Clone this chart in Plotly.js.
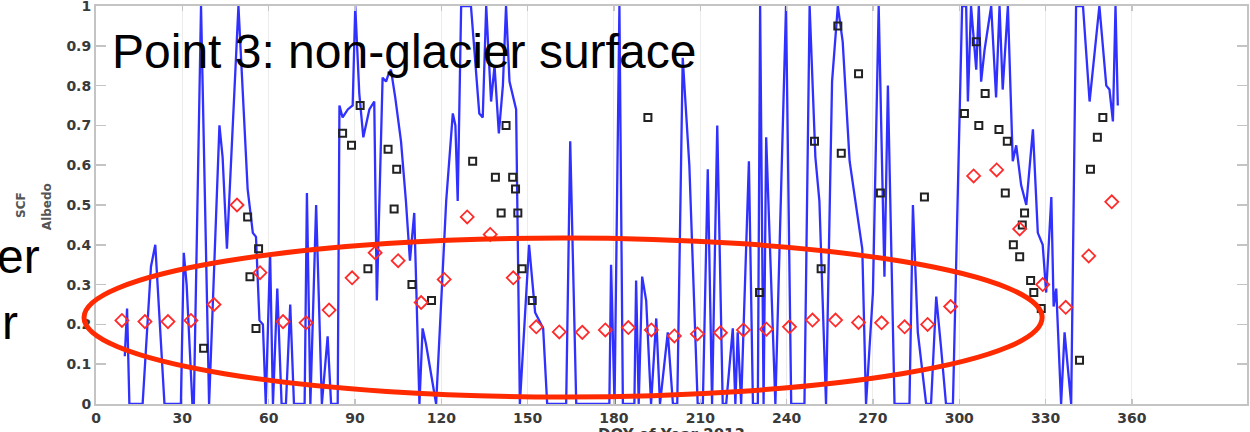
<!DOCTYPE html>
<html>
<head>
<meta charset="utf-8">
<script src="https://cdn.plot.ly/plotly-3.0.1.min.js"></script>
<style>
  html, body { margin: 0; padding: 0; background: #ffffff; }
  #chart { width: 1250px; height: 432px; }
</style>
</head>
<body>
<div id="chart"></div>
<script>
// ---- Data ----
// Daily snow cover fraction (blue line)
const doyLine = [10.0, 10.8, 11.6, 16.2, 19.1, 20.6, 23.8, 29.5, 30.5, 31.5, 33.5, 34.0, 36.5, 39.3, 42.9, 44.0, 45.5, 49.5, 52.7, 54.5, 55.6, 56.8, 58.0,
  59.0, 60.5, 61.5, 63.0, 64.5, 66.0, 67.5, 68.8, 72.5, 73.3, 74.5, 76.5, 78.5, 80.5, 81.7, 84.0, 84.6, 85.7, 87.5, 89.2, 90.1, 91.5, 92.9, 95.0, 96.7, 97.6,
  99.6, 100.8, 101.7, 102.5, 104.0, 106.0, 107.7, 109.1, 110.6, 112.4, 113.5, 114.7, 118.2, 121.7, 124.0, 124.9, 125.7, 126.9, 130.3, 133.2, 134.4, 135.6,
  137.3, 138.5, 140.0, 141.4, 142.5, 143.7, 145.4, 146.0, 147.3, 150.5, 152.6, 155.4, 156.8, 163.4, 164.8, 166.9, 178.4, 179.0, 180.2, 181.9, 183.1, 187.1,
  187.7, 188.6, 189.8, 191.2, 192.9, 194.7, 196.0, 198.7, 200.5, 202.0, 203.9, 206.2, 209.1, 210.9, 212.6, 214.1, 215.9, 217.8, 219.0, 221.3, 222.2, 223.0,
  224.2, 226.9, 228.3, 230.0, 230.8, 232.0, 232.9, 236.1, 239.8, 241.6, 246.2, 248.0, 250.0, 251.4, 253.7, 255.8, 257.8, 259.5, 261.9, 264.2, 266.3, 267.6,
  270.0, 272.0, 274.0, 275.2, 277.5, 282.7, 283.9, 285.6, 288.5, 290.2, 292.0, 293.7, 295.4, 297.8, 300.1, 301.0, 302.4, 303.0, 304.1, 305.9, 306.8, 307.6,
  308.8, 311.1, 312.8, 314.0, 315.1, 316.9, 318.6, 319.8, 321.5, 323.3, 325.6, 327.3, 329.0, 330.2, 332.0, 332.8, 333.7, 335.4, 336.6, 338.9, 340.6, 343.0,
  345.3, 348.7, 351.1, 352.2, 353.4, 354.3, 355.1];
const scfLine = [0.12, 0.24, 0, 0, 0.345, 0.40, 0, 0, 0.38, 0.30, 0, 0, 1.0, 0, 0.70, 0.62, 0.39, 1.0, 0.54, 0.43, 0.42, 0.21, 0.20,
  0, 0.38, 0, 0.29, 0, 0, 0.25, 0, 0, 0.53, 0, 0.50, 0, 0.17, 0, 0, 0.75, 0.72, 0.74, 0.75, 1.0, 0.78, 0.67, 0.74, 0.76, 0.26,
  0.82, 0.81, 0.83, 0.84, 0.77, 0.66, 0.51, 0.36, 0.48, 0, 0.19, 0.15, 0, 0.51, 0.73, 0.70, 0.51, 1.0, 1.0, 0.73, 0.72, 1.0,
  0.76, 0.85, 0.68, 0.80, 1.0, 0.81, 0.76, 0.74, 0, 0.40, 0.23, 0.19, 0, 0, 0.66, 0, 0, 0.35, 0, 1.0, 0, 0,
  0.31, 0, 0.32, 0.26, 0, 0.215, 0, 0.18, 0, 0, 0.87, 0.60, 0, 0, 0.59, 0, 0.70, 0, 0, 0.19, 0, 0.18,
  0, 0.61, 0, 0, 1.0, 0, 0.67, 0, 1.0, 0, 0, 1.0, 0.62, 0.51, 0, 0.81, 1.0, 0.91, 0.61, 0.50, 0.39, 0,
  0.28, 1.0, 0.32, 0.80, 0, 0, 0.50, 0.18, 0, 0, 0.27, 0.14, 0, 0, 0.74, 1.0, 1.0, 0.76, 1.0, 0.84, 1.0, 0.81,
  0.89, 1.0, 0.77, 1.0, 0.79, 1.0, 0.61, 0.65, 0.55, 0.50, 0.69, 0.43, 0.40, 0.28, 0.52, 0.245, 0.29, 0, 0.18, 0, 1.0, 1.0,
  0.76, 1.0, 0.80, 0.79, 0.71, 1.0, 0.75];

// Snow cover fraction observations (black squares)
const doySquares = [37.4, 52.7, 53.5, 55.6, 56.5, 85.7, 88.8, 91.8, 94.5, 101.5, 103.6, 104.5, 109.8, 116.6, 130.9, 138.8, 140.8, 142.5,
  144.8, 145.8, 146.6, 148.1, 151.6, 191.8, 230.6, 249.7, 252.0, 257.8, 259.0, 265.0, 272.6, 287.9, 301.8, 305.9, 306.8, 309.0,
  313.8, 316.0, 316.7, 318.8, 321.0, 321.9, 322.7, 324.8, 325.9, 328.5, 341.8, 345.6, 348.0, 349.9];
const scfSquares = [0.14, 0.47, 0.32, 0.19, 0.39, 0.68, 0.65, 0.75, 0.34, 0.64, 0.49, 0.59, 0.30, 0.26, 0.61, 0.57, 0.48, 0.70,
  0.57, 0.54, 0.48, 0.34, 0.26, 0.72, 0.28, 0.66, 0.34, 0.95, 0.63, 0.83, 0.53, 0.52, 0.73, 0.91, 0.70, 0.78,
  0.69, 0.53, 0.66, 0.40, 0.37, 0.45, 0.48, 0.31, 0.28, 0.24, 0.11, 0.59, 0.67, 0.72];

// 8-day albedo (red diamonds)
const doyAlbedo = [9, 17, 25, 33, 41, 49, 57, 65, 73, 81, 89, 97, 105, 113, 121, 129, 137, 145, 153, 161, 169, 177, 185, 193,
  201, 209, 217, 225, 233, 241, 249, 257, 265, 273, 281, 289, 297, 305, 313, 321, 329, 337, 345, 353];
const albedo = [0.21, 0.207, 0.207, 0.21, 0.25, 0.50, 0.33, 0.207, 0.204, 0.236, 0.317, 0.38, 0.36, 0.255, 0.313, 0.47, 0.426, 0.317,
  0.194, 0.181, 0.18, 0.186, 0.192, 0.186, 0.171, 0.176, 0.179, 0.186, 0.188, 0.194, 0.211, 0.211, 0.205, 0.204, 0.194, 0.20,
  0.245, 0.573, 0.588, 0.44, 0.30, 0.243, 0.372, 0.508];

const xTickVals = [0, 30, 60, 90, 120, 150, 180, 210, 240, 270, 300, 330, 360];
const xTickText = ['0', '30', '60', '90', '120', '150', '180', '210', '240', '270', '300', '330', '360'];
const yTickVals = [0, 0.1, 0.2, 0.3, 0.4, 0.5, 0.6, 0.7, 0.8, 0.9, 1];
const yTickText = ['0', '0.1', '0.2', '0.3', '0.4', '0.5', '0.6', '0.7', '0.8', '0.9', '1'];

const titleText = 'Point 3: non-glacier surface';
const xLabel = 'DOY of Year 2013';
const yLabel1 = 'SCF';
const yLabel2 = 'Albedo';
const slideFragment1 = 'er';
const slideFragment2 = 'r';

// ---- Traces ----
const traces = [
  {
    type: 'scatter', mode: 'lines', x: doyLine, y: scfLine,
    line: { color: '#3030ff', width: 2.3 }, cliponaxis: true, name: 'SCF'
  },
  {
    type: 'scatter', mode: 'markers', x: doySquares, y: scfSquares,
    marker: { symbol: 'square-open', size: 7, color: '#222222', line: { width: 2, color: '#222222' } }, name: 'SCF obs'
  },
  {
    type: 'scatter', mode: 'markers', x: doyAlbedo, y: albedo,
    marker: { symbol: 'diamond-open', size: 10, color: '#ff2a2a', line: { width: 1.8, color: '#ff2a2a' } }, name: 'Albedo'
  }
];

const axisFont = { family: 'DejaVu Sans', size: 14, color: '#3a3a3a', weight: 'bold' };

const layout = {
  width: 1250, height: 432,
  margin: { l: 96, r: 3, t: 6, b: 28, pad: 0 },
  paper_bgcolor: '#ffffff', plot_bgcolor: '#ffffff',
  showlegend: false,
  xaxis: {
    range: [0, 400], tickmode: 'array', tickvals: xTickVals, ticktext: xTickText,
    showgrid: true, gridcolor: '#ececec', gridwidth: 1, zeroline: false,
    showline: true, linecolor: '#c4c4c4', linewidth: 2, mirror: 'ticks',
    ticks: 'inside', ticklen: 5, tickcolor: '#c4c4c4', tickwidth: 1.5,
    tickfont: axisFont, fixedrange: true
  },
  yaxis: {
    range: [0, 1], tickmode: 'array', tickvals: yTickVals, ticktext: yTickText,
    showgrid: false, zeroline: false,
    showline: true, linecolor: '#c4c4c4', linewidth: 2, mirror: 'ticks',
    ticks: 'inside', ticklen: 10, tickcolor: '#c4c4c4', tickwidth: 1.5,
    tickfont: axisFont, fixedrange: true, ticklabeloverflow: 'allow'
  },
  shapes: [
    {
      type: 'circle', xref: 'paper', yref: 'paper',
      x0: -0.0104, x1: 0.822, y0: 0.0176, y1: 0.417,
      line: { color: '#ff2a00', width: 5 }, layer: 'above'
    }
  ],
  annotations: [
    {
      text: titleText, xref: 'paper', yref: 'paper', x: 0.0125, y: 0.885,
      xanchor: 'left', yanchor: 'middle', showarrow: false,
      font: { family: 'Liberation Sans', size: 48, color: '#000000' }
    },
    {
      text: slideFragment1, xref: 'paper', yref: 'paper', x: -0.0469, y: 0.37,
      xanchor: 'right', yanchor: 'middle', showarrow: false,
      font: { family: 'Liberation Sans', size: 48, color: '#000000' }
    },
    {
      text: slideFragment2, xref: 'paper', yref: 'paper', x: -0.066, y: 0.205,
      xanchor: 'right', yanchor: 'middle', showarrow: false,
      font: { family: 'Liberation Sans', size: 48, color: '#000000' }
    },
    {
      text: yLabel1, xref: 'paper', yref: 'paper', x: -0.0652, y: 0.5,
      xanchor: 'center', yanchor: 'middle', textangle: -90, showarrow: false,
      font: { family: 'DejaVu Sans', size: 12, color: '#555555', weight: 'bold' }
    },
    {
      text: yLabel2, xref: 'paper', yref: 'paper', x: -0.0426, y: 0.497,
      xanchor: 'center', yanchor: 'middle', textangle: -90, showarrow: false,
      font: { family: 'DejaVu Sans', size: 12, color: '#555555', weight: 'bold' }
    },
    {
      text: xLabel, xref: 'paper', yref: 'paper', x: 0.5, y: -0.05,
      xanchor: 'center', yanchor: 'top', showarrow: false,
      font: { family: 'DejaVu Sans', size: 15, color: '#3a3a3a', weight: 'bold' }
    }
  ]
};

Plotly.newPlot('chart', traces, layout, { displayModeBar: false, staticPlot: true });
</script>
</body>
</html>
